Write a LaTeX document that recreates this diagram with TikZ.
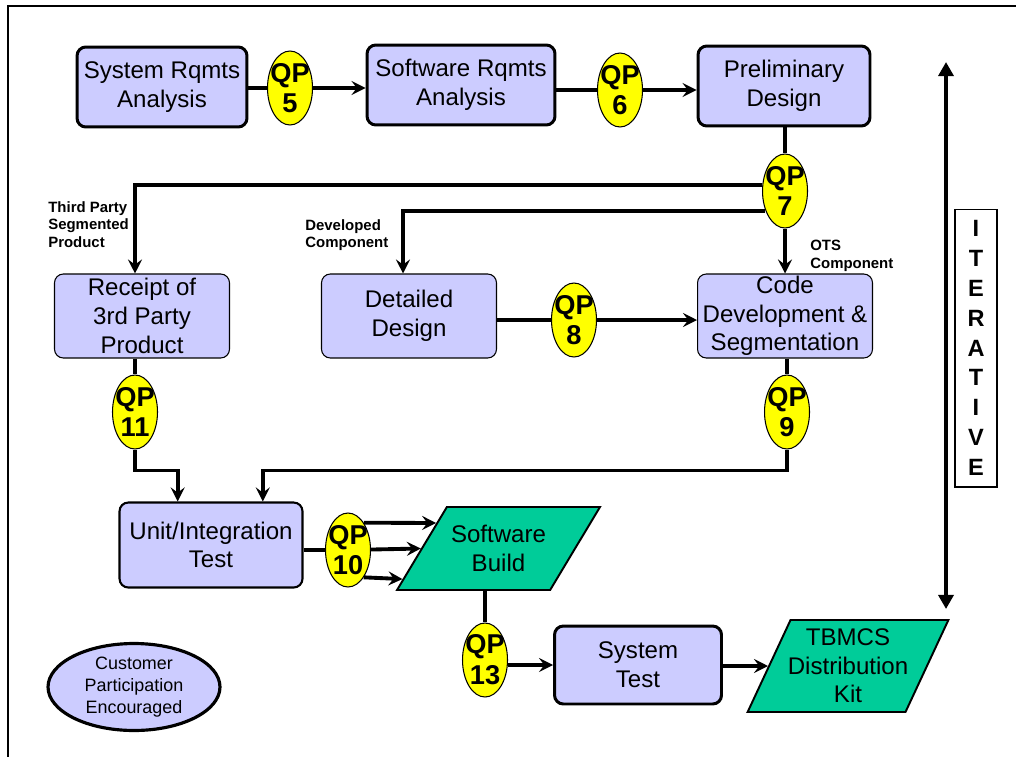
\documentclass[tikz,border=0pt]{standalone}
\usepackage{fontspec}
\setmainfont{Liberation Sans}
\usetikzlibrary{arrows.meta,calc,shapes.geometric}

\definecolor{boxblue}{HTML}{CCCCFF}
\definecolor{qpyellow}{HTML}{FFFF00}
\definecolor{kitgreen}{HTML}{00CC99}

% quality point label, kept narrow so the ellipse keeps its size
\newcommand{\qplabel}[1]{\makebox[0pt]{QP}\\\makebox[0pt]{#1}}

\begin{document}
\begin{tikzpicture}[x=0.02cm,y=-0.02cm,
boxtext/.style={font=\fontsize{13.7}{16.3}\selectfont,align=center,inner sep=0pt},
phase/.style={boxtext,rectangle,rounded corners=5pt,draw=black,line width=1.7pt,fill=boxblue},
task/.style={boxtext,rectangle,rounded corners=5pt,draw=black,line width=0.6pt,fill=boxblue,minimum width=3.5cm,minimum height=1.68cm},
qpoint/.style={ellipse,draw=black,line width=0.6pt,fill=qpyellow,inner sep=0pt,minimum width=0.9cm,minimum height=1.48cm,align=center,font=\fontsize{15.5}{17.5}\selectfont\bfseries},
output/.style={boxtext,trapezium,trapezium stretches body=true,draw=black,line width=1.1pt,fill=kitgreen},
flow/.style={line width=2.2pt},
edge/.style={flow,-{Stealth[length=8pt,width=8pt,inset=3pt]}},
note/.style={font=\fontsize{8.5}{10}\selectfont\bfseries,align=left,inner sep=0pt,anchor=north west}]

\useasboundingbox (0,0) rectangle (1016,757);
\draw[line width=1.1pt] (1016,6) -- (8,6) -- (8,757);

% top row
\node (SYSRQ) at (162,87) [phase,minimum width=3.4cm,minimum height=1.6cm] {System Rqmts\\Analysis};
\node (SWRQ) at (461,85) [phase,minimum width=3.76cm,minimum height=1.6cm] {Software Rqmts\\Analysis};
\node (PRELIM) at (784,86) [phase,minimum width=3.44cm,minimum height=1.6cm] {Preliminary\\Design};

\node (QP5) at (290,88) [qpoint] {\qplabel{5}};
\node (QP6) at (620,90) [qpoint] {\qplabel{6}};
\node (QP7) at (785,191) [qpoint] {\qplabel{7}};

\draw[flow] (SYSRQ.east |- QP5) -- (QP5);
\draw[edge] (QP5) -- (QP5 -| SWRQ.west);
\draw[flow] (SWRQ.east |- QP6) -- (QP6);
\draw[edge] (QP6) -- (QP6 -| PRELIM.west);
\draw[flow] (PRELIM.south -| QP7) -- (QP7);

% second row
\node (RECEIPT) at (142,316) [task] {Receipt of\\3rd Party\\Product};
\node (DETAIL) at (409,316) [task] {Detailed\\Design};
\node (CODE) at (785,316) [task] {Code\\Development \&\\Segmentation};

\node (QP8) at (574,320) [qpoint] {\qplabel{8}};
\node (QP9) at (787,412) [qpoint] {\qplabel{9}};
\node (QP11) at (135,412) [qpoint] {\qplabel{11}};

\node (THIRD) at (48,201) [note] {Third Party\\Segmented\\Product};
\node (DEVEL) at (305,219) [note] {Developed\\Component};
\node (OTS) at (810,240) [note] {OTS\\Component};

\draw[edge] (QP7.165) -| (QP11 |- RECEIPT.north);
\draw[edge] (QP7.-135) -| ([xshift=-0.12cm]DETAIL.north);
\draw[edge] (QP7) -- (QP7 |- CODE.north);
\draw[flow] (DETAIL.east |- QP8) -- (QP8);
\draw[edge] (QP8) -- (QP8 -| CODE.west);

% test and build
\node (UNIT) at (211,545) [phase,line width=1.2pt,minimum width=3.66cm,minimum height=1.7cm] {Unit/Integration\\Test};
\node (QP10) at (348,550) [qpoint] {\qplabel{10}};
\node (BUILD) at (498.5,548.5) [output,trapezium left angle=59,trapezium right angle=121,minimum width=4.06cm] {\parbox[c][1.66cm][c]{2.06cm}{\centering Software\\Build}};

\draw[flow] (RECEIPT.south -| QP11) -- (QP11);
\draw[edge] (QP11.south) -- ++(0,21) -| ($(UNIT.north west)!.32!(UNIT.north east)$);
\draw[flow] (CODE.south -| QP9) -- (QP9);
\draw[edge] (QP9.south) -- ++(0,21) -| ($(UNIT.north west)!.78!(UNIT.north east)$);

\draw[flow] (UNIT.east |- QP10) -- (QP10);
\draw[edge] (QP10.60) -- ($(BUILD.bottom left corner)!.8!(BUILD.top left corner)$);
\draw[edge] (QP10) -- (BUILD.west);
\draw[edge] (QP10.-60) -- ($(BUILD.bottom left corner)!.14!(BUILD.top left corner)$);

% delivery
\node (QP13) at (485,660) [qpoint] {\qplabel{13}};
\node (SYSTEST) at (638,665) [phase,minimum width=3.34cm,minimum height=1.56cm] {System\\Test};
\node (KIT) at (848,666) [output,trapezium left angle=65,trapezium right angle=115,minimum width=4cm] {\parbox[c][1.84cm][c]{2.3cm}{\centering TBMCS\\\makebox[0pt]{Distribution}\\Kit}};

\draw[flow] (QP13 |- BUILD.south) -- (QP13);
\draw[edge] (QP13.east |- SYSTEST.west) -- (SYSTEST.west);
\draw[edge] (SYSTEST.east |- KIT.west) -- (KIT.west);

\node (CUST) at (134,687) [ellipse,draw=black,line width=1.8pt,fill=boxblue,minimum width=3.44cm,minimum height=1.74cm,inner sep=0pt,align=center,font=\fontsize{10.2}{12.6}\selectfont] {Customer\\Participation\\Encouraged};

% iterative bar
\coordinate (ITOP) at (946,62);
\coordinate (IBOT) at (946,609);
\draw[line width=2.2pt,{Triangle[length=8pt,width=8.5pt]}-{Triangle[length=8pt,width=8.5pt]}] (ITOP) -- (IBOT);
\node (ITER) at (976,348) [draw=black,line width=0.6pt,minimum width=0.84cm,minimum height=5.56cm,align=center,inner sep=0pt,font=\fontsize{13.4}{17}\selectfont\bfseries] {I\\T\\E\\R\\A\\T\\I\\V\\E};

\end{tikzpicture}
\end{document}
